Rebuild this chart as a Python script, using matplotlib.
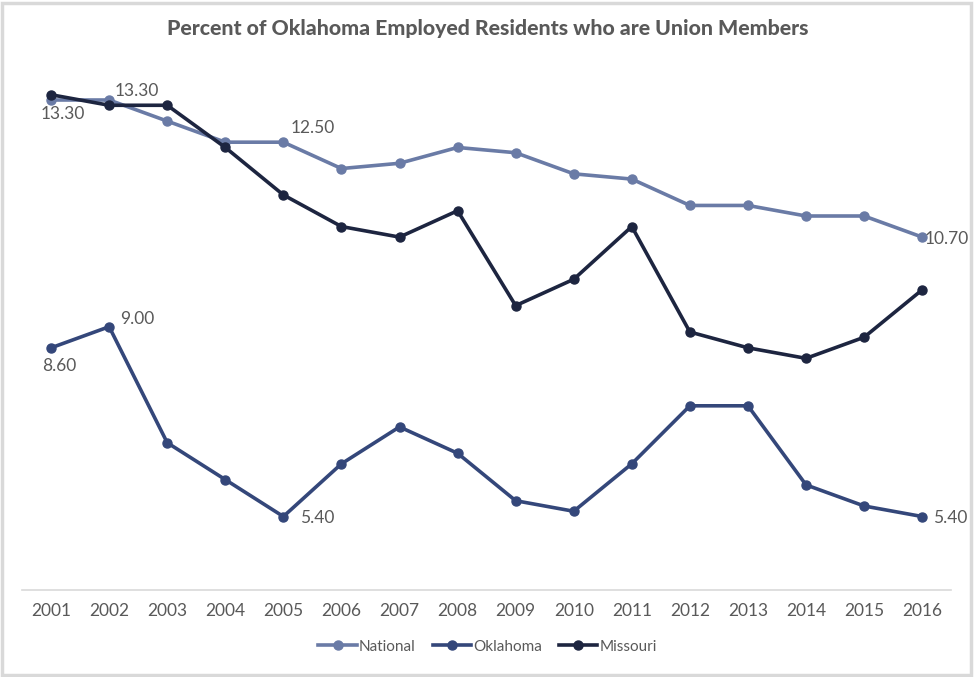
import matplotlib
matplotlib.use("Agg")
import matplotlib.pyplot as plt
from matplotlib.patches import Rectangle

years = ["2001", "2002", "2003", "2004", "2005", "2006", "2007", "2008",
         "2009", "2010", "2011", "2012", "2013", "2014", "2015", "2016"]
national = [13.3, 13.3, 12.9, 12.5, 12.5, 12.0, 12.1, 12.4, 12.3, 11.9, 11.8, 11.3, 11.3, 11.1, 11.1, 10.7]
oklahoma = [8.6, 9.0, 6.8, 6.1, 5.4, 6.4, 7.1, 6.6, 5.7, 5.5, 6.4, 7.5, 7.5, 6.0, 5.6, 5.4]
missouri = [13.4, 13.2, 13.2, 12.4, 11.5, 10.9, 10.7, 11.2, 9.4, 9.9, 10.9, 8.9, 8.6, 8.4, 8.8, 9.7]

c_nat = "#6A7BA6"
c_ok = "#34477A"
c_mo = "#1D2540"
gray = "#595959"

fig = plt.figure(figsize=(9.75, 6.77), dpi=100)
ax = fig.add_axes([0.0226, 0.128, 0.953, 0.7788])
x = list(range(len(years)))

for vals, col, name in [(national, c_nat, "National"), (oklahoma, c_ok, "Oklahoma"), (missouri, c_mo, "Missouri")]:
    ax.plot(x, vals, color=col, lw=2.6, marker="o", ms=6.5, label=name, solid_joinstyle="round")

ax.set_xlim(-0.5, len(years) - 0.5)
ax.set_ylim(4, 14)
ax.set_xticks(x)
ax.set_xticklabels(years, fontsize=12.5, color=gray, family="Lato")
ax.tick_params(axis="x", length=0, pad=9)
ax.set_yticks([])
for s in ["top", "left", "right"]:
    ax.spines[s].set_visible(False)
ax.spines["bottom"].set_color("#D9D9D9")
ax.spines["bottom"].set_linewidth(1.2)

def lab(i, vals, dx, dy, ha="center"):
    ax.annotate(f"{vals[i]:.2f}", (x[i], vals[i]), xytext=(dx, dy), textcoords="offset pixels",
                ha=ha, va="center", fontsize=12.5, color=gray, family="Lato", clip_on=False)

lab(0, national, 12, -14)
lab(1, national, 28, 9)
lab(4, national, 29, 14)
lab(15, national, 25, -2)
lab(0, oklahoma, 8, -18)
lab(1, oklahoma, 28, 8)
lab(4, oklahoma, 34, -1)
lab(15, oklahoma, 28, -1)

fig.text(0.5, 0.958, "Percent of Oklahoma Employed Residents who are Union Members",
         ha="center", va="center", fontsize=15.3, fontweight="black", color=gray, family="Lato")

leg = fig.legend(loc="center", bbox_to_anchor=(0.5, 0.045), ncol=3, frameon=False,
                 prop={"family": "Lato", "size": 11}, handlelength=2.5, handletextpad=0.15,
                 columnspacing=1.1, labelcolor=gray)

fig.patches.append(Rectangle((0.002, 0.003), 0.994, 0.993, transform=fig.transFigure,
                             fill=False, edgecolor="#D9D9D9", lw=2.5))

fig.savefig("out.png", dpi=100, facecolor="white")
